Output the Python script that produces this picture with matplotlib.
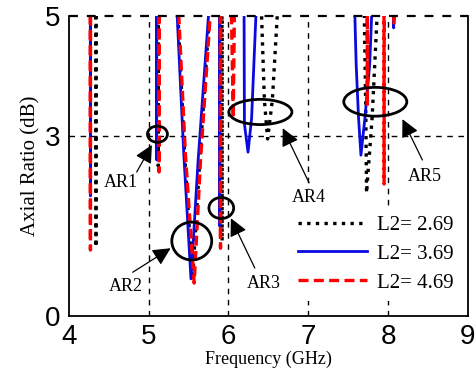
import matplotlib
matplotlib.use("Agg")
import matplotlib.pyplot as plt
from matplotlib.patches import Ellipse

# axial ratio sweeps for three stub lengths (values above 5 dB run off the top)
freq_269 = [4.00, 4.335, 4.34, 4.345, 5.115, 5.12, 5.125, 5.36, 5.45, 5.55, 5.64, 5.77,
            5.915, 5.92, 5.925, 6.41, 6.45, 6.49, 6.55, 6.62, 7.70, 7.72, 7.73, 7.80, 7.87, 9.00]
ar_269 = [12, 12, 1.15, 12, 12, 2.5, 12, 5.2, 2.7, 0.6, 2.6, 5.2,
          12, 1.25, 12, 5.2, 3.6, 2.95, 3.6, 5.2, 5.2, 3.5, 2.05, 3.3, 5.2, 12]

freq_369 = [4.00, 4.265, 4.27, 4.275, 5.095, 5.10, 5.105, 5.35, 5.44, 5.53, 5.62, 5.76,
            5.885, 5.89, 5.895, 6.195, 6.20, 6.245, 6.29, 6.35, 7.58, 7.60, 7.63, 7.66,
            7.71, 7.77, 7.80, 8.065, 8.07, 8.075, 9.00]
ar_369 = [12, 12, 2.0, 12, 12, 2.6, 12, 5.2, 2.7, 0.62, 2.6, 5.2,
          12, 1.5, 12, 5.2, 3.2, 2.73, 3.3, 5.2, 5.2, 4.2, 3.3, 2.68,
          3.3, 4.2, 5.2, 12, 4.8, 12, 12]

freq_469 = [4.00, 4.265, 4.27, 4.275, 5.125, 5.13, 5.135, 5.37, 5.46, 5.57, 5.65, 5.78,
            5.895, 5.90, 5.905, 6.035, 6.06, 6.075, 7.735, 7.74, 7.745, 7.945, 7.95, 7.955,
            8.07, 8.075, 8.08, 9.00]
ar_469 = [12, 12, 1.1, 12, 12, 2.4, 12, 5.2, 2.7, 0.55, 2.6, 5.2,
          12, 1.13, 12, 5.2, 3.3, 5.2, 12, 3.5, 12, 12, 2.2, 12,
          12, 4.85, 12, 12]

series_labels = ["L2= 2.69", "L2= 3.69", "L2= 4.69"]

# marked bands: label, ellipse centre/size, text position, arrow tail and tip
band_names = ["AR1", "AR2", "AR3", "AR4", "AR5"]
ellipse_xy = [(5.11, 3.03), (5.54, 1.25), (5.91, 1.80), (6.40, 3.40), (7.84, 3.57)]
ellipse_wh = [(0.25, 0.27), (0.50, 0.63), (0.31, 0.35), (0.79, 0.42), (0.79, 0.48)]
text_xy = [(4.65, 2.22), (4.71, 0.50), (6.44, 0.55), (7.01, 1.97), (8.46, 2.32)]
arrow_tail = [(4.85, 2.40), (4.80, 0.73), (6.33, 0.80), (7.01, 2.22), (8.43, 2.60)]
arrow_tip = [(5.04, 2.85), (5.275, 1.13), (6.03, 1.63), (6.68, 3.13), (8.18, 3.28)]

serif = "Liberation Serif"
narrow = ["Liberation Sans Narrow", "Liberation Sans"]

fig = plt.figure(figsize=(4.75, 3.79), dpi=100)
ax = fig.add_axes([0.145, 0.166, 0.840, 0.792])

ax.plot(freq_269, ar_269, color="black", linestyle=(0, (1, 1.6)), linewidth=2.4,
        label=series_labels[0], zorder=3)
ax.plot(freq_369, ar_369, color="#0a0ae0", linestyle="-", linewidth=2.0,
        label=series_labels[1], zorder=4)
ax.plot(freq_469, ar_469, color="#ff0000", linestyle=(0, (3, 1.6)), linewidth=2.4,
        label=series_labels[2], zorder=5)

ax.set_xlim(4, 9)
ax.set_ylim(0, 5)
ax.set_xticks([4, 5, 6, 7, 8, 9])
ax.set_yticks([0, 3, 5])

# dashed reference grid at the inner ticks only
for gx in [5, 6, 7, 8]:
    ax.axvline(gx, color="black", linestyle=(0, (4, 4)), linewidth=1.0, zorder=1)
ax.axhline(3, color="black", linestyle=(0, (4, 4)), linewidth=1.0, zorder=1)
ax.axhline(5, color="black", linestyle=(0, (4, 4)), linewidth=1.6, zorder=6, clip_on=False)
ax.spines["top"].set_visible(False)
for side in ["left", "bottom", "right"]:
    ax.spines[side].set_linewidth(1.3)

ax.tick_params(length=0, pad=6)
for lab in ax.get_xticklabels() + ax.get_yticklabels():
    lab.set_family(narrow)
    lab.set_fontsize(20)

ax.set_xlabel("Frequency (GHz)", family=serif, fontsize=13, labelpad=0)
ax.set_ylabel("Axial Ratio (dB)", family=serif, fontsize=15, labelpad=3)

for name, c, wh, t, tail, tip in zip(band_names, ellipse_xy, ellipse_wh, text_xy,
                                     arrow_tail, arrow_tip):
    ax.add_patch(Ellipse(c, wh[0], wh[1], fill=False, edgecolor="black",
                         linewidth=2.0, zorder=7))
    ax.annotate("", xy=tip, xytext=tail,
                arrowprops=dict(arrowstyle="-|>,head_length=0.6,head_width=0.3",
                                color="black", lw=0.9,
                                mutation_scale=18, shrinkA=0, shrinkB=0),
                zorder=7)
    ax.text(t[0], t[1], name, family=serif, fontsize=13, ha="center", va="center",
            zorder=8, bbox=dict(facecolor="white", edgecolor="none", pad=0.5))

leg = ax.legend(loc="lower right", bbox_to_anchor=(0.985, 0.05), frameon=True,
                prop={"family": serif, "size": 15}, handlelength=3.3,
                handletextpad=0.5, labelspacing=0.45, borderaxespad=0.0)
leg.get_frame().set_edgecolor("none")
leg.get_frame().set_facecolor("white")
leg.get_frame().set_alpha(1.0)
leg.set_zorder(9)

fig.savefig("out.png", dpi=100)
